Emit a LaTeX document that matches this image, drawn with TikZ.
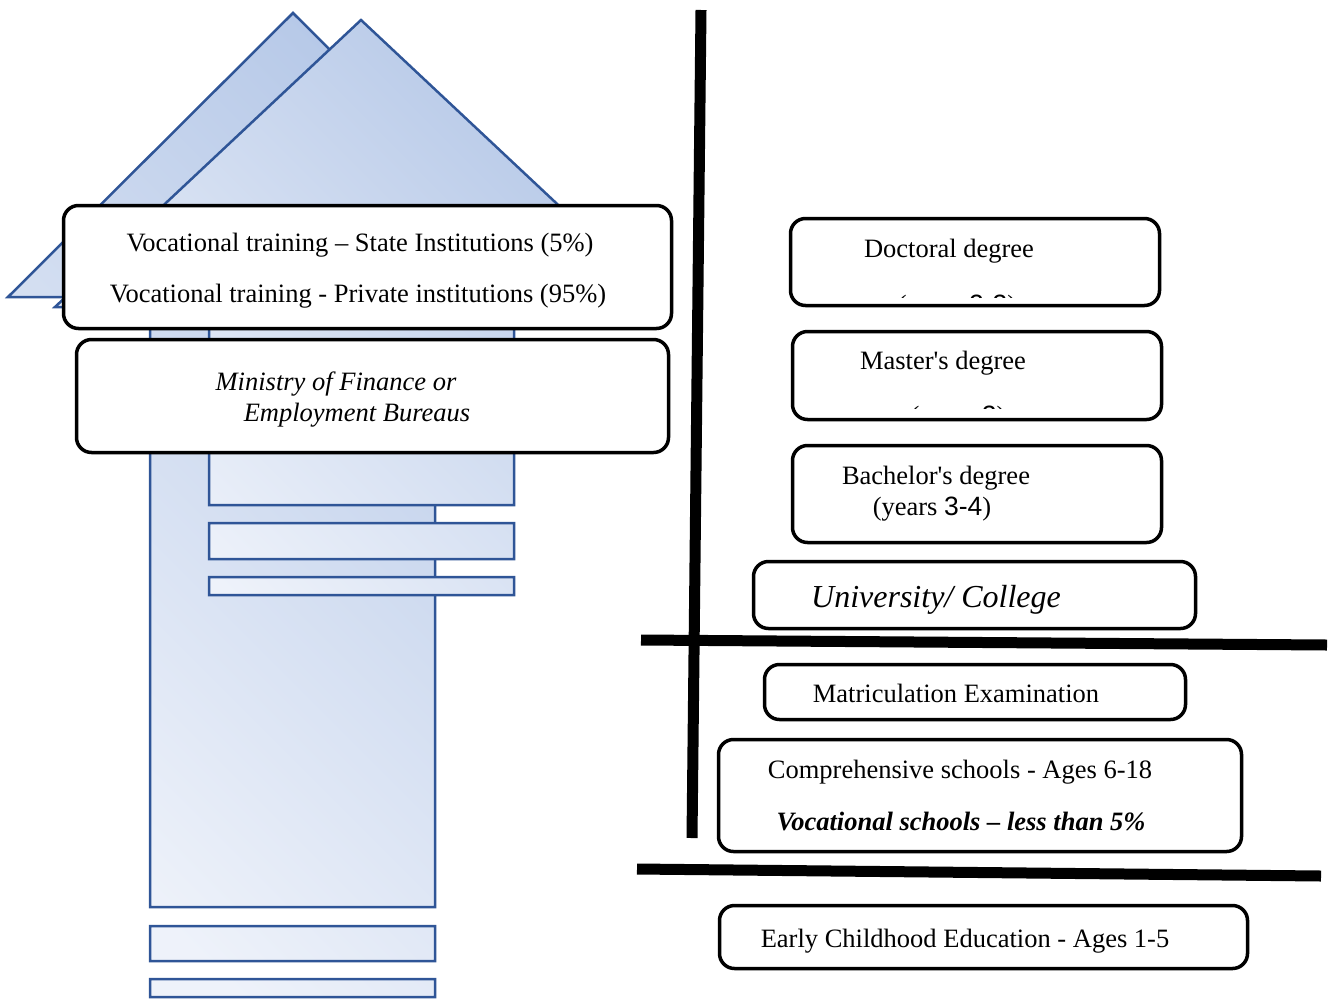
\documentclass[tikz,border=0pt]{standalone}
\usepackage{fontspec}
\setmainfont{Liberation Serif}
\newfontfamily\arialfont{Liberation Sans}
\usepackage{tikz}
\usetikzlibrary{calc}

\definecolor{arrowedge}{HTML}{2F5597}
\definecolor{arrowlight}{HTML}{EEF2FA}
\definecolor{arrowdark}{HTML}{B4C7E7}

\tikzset{
  stagebox/.style={draw, line width=3.5pt, rounded corners=15pt, fill=white, inner sep=0pt},
  txt/.style={anchor=base, inner sep=0pt, font=\fontsize{26.5}{32}\selectfont},
  bar/.style={line width=11pt},
  blockarrow/.style={draw=arrowedge, line width=2.5pt, top color=arrowdark, bottom color=arrowlight, shading angle=-45}
}

\begin{document}
\begin{tikzpicture}[x=1pt,y=-1pt]
\useasboundingbox (0,0) rectangle (1335,999);

% the two striped up arrows
\path[blockarrow] (293,13) -- (578,297) -- (435,297) -- (435,907) -- (150,907) -- (150,297) -- (8,297) -- cycle
  (150,926) rectangle (435,961) (150,979) rectangle (435,997);
\path[blockarrow] (361,20) -- (667,307) -- (514,307) -- (514,505) -- (209,505) -- (209,307) -- (55,307) -- cycle
  (209,523) rectangle (514,559) (209,577) rectangle (514,595);

% left boxes
\node[stagebox, minimum width=608, minimum height=123] (voc) at (367.5,267) {};
\node[txt] (voc1) at (360,251) {Vocational training -- State Institutions (5\%)};
\node[txt] (voc2) at (358,302) {Vocational training - Private institutions (95\%)};

\node[stagebox, minimum width=592, minimum height=113] (min) at (372.5,396) {};
\node[txt] (min1) at (336,390) {\itshape Ministry of Finance or};
\node[txt] (min2) at (357,421) {\itshape Employment Bureaus};

% right boxes
\node[stagebox, minimum width=369, minimum height=87] (doc) at (975,262) {};
\node[txt] (doc1) at (949,257) {Doctoral degree};
\begin{scope}
\clip (792,220) rectangle (1158,297);
\node[txt] (doc2) at (957,313) {(years {\arialfont 2-3})};
\end{scope}

\node[stagebox, minimum width=369, minimum height=88] (mas) at (977,375.5) {};
\node[txt] (mas1) at (943,369) {Master\textquotesingle s degree};
\begin{scope}
\clip (794,333) rectangle (1160,408);
\node[txt] (mas2) at (958,424) {(years {\arialfont 2})};
\end{scope}

\node[stagebox, minimum width=369, minimum height=97] (bac) at (977,494) {};
\node[txt] (bac1) at (936,484) {Bachelor\textquotesingle s degree};
\node[txt] (bac2) at (932,515) {(years {\arialfont 3-4})};

\node[stagebox, minimum width=442, minimum height=67] (uni) at (974.5,595) {};
\node[txt, font=\fontsize{32}{38}\selectfont\itshape] (uni1) at (936,607) {University/ College};

\node[stagebox, minimum width=421, minimum height=55] (mat) at (975,692) {};
\node[txt] (mat1) at (956,702) {Matriculation Examination};

\node[stagebox, minimum width=523, minimum height=112] (comp) at (980,795.5) {};
\node[txt] (comp1) at (960,778) {Comprehensive schools - Ages 6-18};
\node[txt, font=\fontsize{26.5}{32}\selectfont\bfseries\itshape] (comp2) at (961,830) {Vocational schools -- less than 5\%};

\node[stagebox, minimum width=528, minimum height=63] (ece) at (983.5,937) {};
\node[txt] (ece1) at (965,947) {Early Childhood Education - Ages 1-5};

% thick dividing lines
\draw[bar] (701,10) -- (692,838);
\draw[bar] (641,640) -- (1327,645);
\draw[bar] (637,869) -- (1321,876);
\end{tikzpicture}
\end{document}
